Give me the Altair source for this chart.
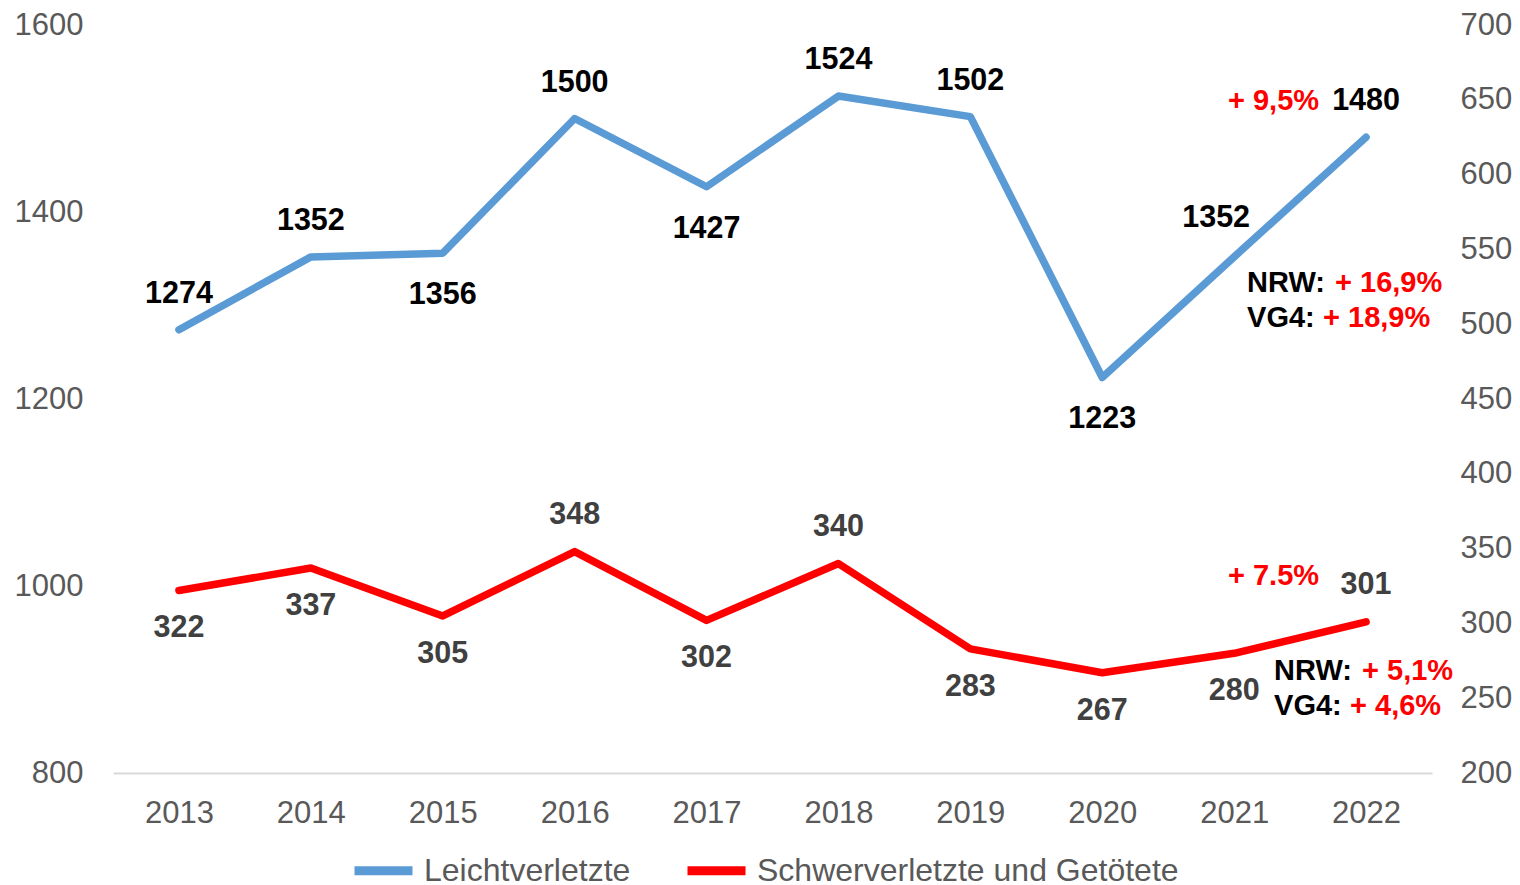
import altair as alt
import pandas as pd

years = ["2013", "2014", "2015", "2016", "2017", "2018", "2019", "2020", "2021", "2022"]
leicht = [1274, 1352, 1356, 1500, 1427, 1524, 1502, 1223, 1352, 1480]
schwer = [322, 337, 305, 348, 302, 340, 283, 267, 280, 301]
series_names = ["Leichtverletzte", "Schwerverletzte und Getötete"]
series_colors = ["#5B9BD5", "#FF0000"]

# label placement (style only)
leicht_place = ["above", "above", "below", "above", "below", "above", "above", "below", "aboveleft", "above"]
schwer_place = ["below", "below", "below", "above", "below", "above", "below", "below", "below", "above"]

left_ticks = [800, 1000, 1200, 1400, 1600]
right_ticks = [200, 250, 300, 350, 400, 450, 500, 550, 600, 650, 700]

ann_leicht_change = "+ 9,5%"
ann_leicht_nrw = ["NRW:", "+ 16,9%"]
ann_leicht_vg4 = ["VG4:", "+ 18,9%"]
ann_schwer_change = "+ 7.5%"
ann_schwer_nrw = ["NRW:", "+ 5,1%"]
ann_schwer_vg4 = ["VG4:", "+ 4,6%"]

FONT = "Liberation Sans"
AXIS_GRAY = "#595959"
AXIS_FS = 31
LABEL_FS = 30.5
ANN_FS = 29

blue_df = pd.DataFrame({"year": years, "value": leicht, "series": series_names[0], "place": leicht_place})
red_df = pd.DataFrame({"year": years, "value": schwer, "series": series_names[1], "place": schwer_place})
blue_last = blue_df.iloc[[-1]]
red_last = red_df.iloc[[-1]]

X = alt.X("year:O", scale=alt.Scale(type="point", padding=0.5),
          axis=alt.Axis(title=None, labelAngle=0, labelFontSize=AXIS_FS, labelColor=AXIS_GRAY,
                        labelFont=FONT, ticks=False, domain=True, domainColor="#D9D9D9",
                        domainWidth=2, labelPadding=25, grid=False))
Y_left = alt.Y("value:Q", scale=alt.Scale(domain=[800, 1600], nice=False, zero=False),
               axis=alt.Axis(title=None, orient="left", values=left_ticks, format="d", labelFontSize=AXIS_FS,
                             labelColor=AXIS_GRAY, labelFont=FONT, ticks=False, domain=False,
                             grid=False, labelPadding=30))
Y_right = alt.Y("value:Q", scale=alt.Scale(domain=[200, 700], nice=False, zero=False),
                axis=alt.Axis(title=None, orient="right", values=right_ticks, format="d", labelFontSize=AXIS_FS,
                              labelColor=AXIS_GRAY, labelFont=FONT, ticks=False, domain=False,
                              grid=False, labelPadding=28))
COLOR = alt.Color("series:N", scale=alt.Scale(domain=series_names, range=series_colors),
                  legend=alt.Legend(title=None, orient="none", direction="horizontal",
                                    legendX=237, legendY=85 + 748 - 21,
                                    symbolType="stroke", symbolSize=3364, symbolStrokeWidth=9,
                                    labelFontSize=32, labelColor=AXIS_GRAY, labelFont=FONT,
                                    labelLimit=0, labelOffset=7, columnPadding=38, symbolOffset=0))


def labels(df, place, dx, dy, color):
    return alt.Chart(df).transform_filter(alt.datum.place == place).mark_text(
        font=FONT, fontSize=LABEL_FS, fontWeight="bold", color=color, dx=dx, dy=dy
    )


def ann(df, y_enc, text, align, dx, dy, color):
    return alt.Chart(df).mark_text(
        font=FONT, fontSize=ANN_FS, fontWeight="bold", color=color, align=align, dx=dx, dy=dy, text=text
    ).encode(x=X, y=y_enc)


blue_line = alt.Chart(blue_df).mark_line(strokeWidth=7.5, strokeCap="round", strokeJoin="round").encode(
    x=X, y=Y_left, color=COLOR)
blue_layers = [blue_line]
for place, dx, dy in [("above", 0, -36), ("below", 0, 42), ("aboveleft", -18, -39)]:
    blue_layers.append(labels(blue_df, place, dx, dy, "#000000").encode(x=X, y=Y_left, text="value:Q"))
blue_layers += [
    ann(blue_last, Y_left, ann_leicht_change, "right", -47, -36, "#FF0000"),
    ann(blue_last, Y_left, ann_leicht_nrw[0], "left", -119, 146, "#000000"),
    ann(blue_last, Y_left, ann_leicht_nrw[1], "left", -31, 146, "#FF0000"),
    ann(blue_last, Y_left, ann_leicht_vg4[0], "left", -119, 181, "#000000"),
    ann(blue_last, Y_left, ann_leicht_vg4[1], "left", -43, 181, "#FF0000"),
]
blue = alt.layer(*blue_layers)

red_line = alt.Chart(red_df).mark_line(strokeWidth=7.5, strokeCap="round", strokeJoin="round").encode(
    x=X, y=Y_right, color=COLOR)
red_layers = [red_line]
for place, dx, dy in [("above", 0, -37), ("below", 0, 38)]:
    red_layers.append(labels(red_df, place, dx, dy, "#404040").encode(x=X, y=Y_right, text="value:Q"))
red_layers += [
    ann(red_last, Y_right, ann_schwer_change, "right", -47, -46, "#FF0000"),
    ann(red_last, Y_right, ann_schwer_nrw[0], "left", -92, 49, "#000000"),
    ann(red_last, Y_right, ann_schwer_nrw[1], "left", -4, 49, "#FF0000"),
    ann(red_last, Y_right, ann_schwer_vg4[0], "left", -92, 84, "#000000"),
    ann(red_last, Y_right, ann_schwer_vg4[1], "left", -16, 84, "#FF0000"),
]
red = alt.layer(*red_layers)

chart = alt.layer(blue, red).resolve_scale(y="independent").properties(
    width=1319, height=748, background="white",
    padding={"left": 6, "top": 1, "right": 0, "bottom": 0}
).configure_view(stroke=None)

chart.save("out.html", embed_options={"renderer": "svg", "actions": False})
